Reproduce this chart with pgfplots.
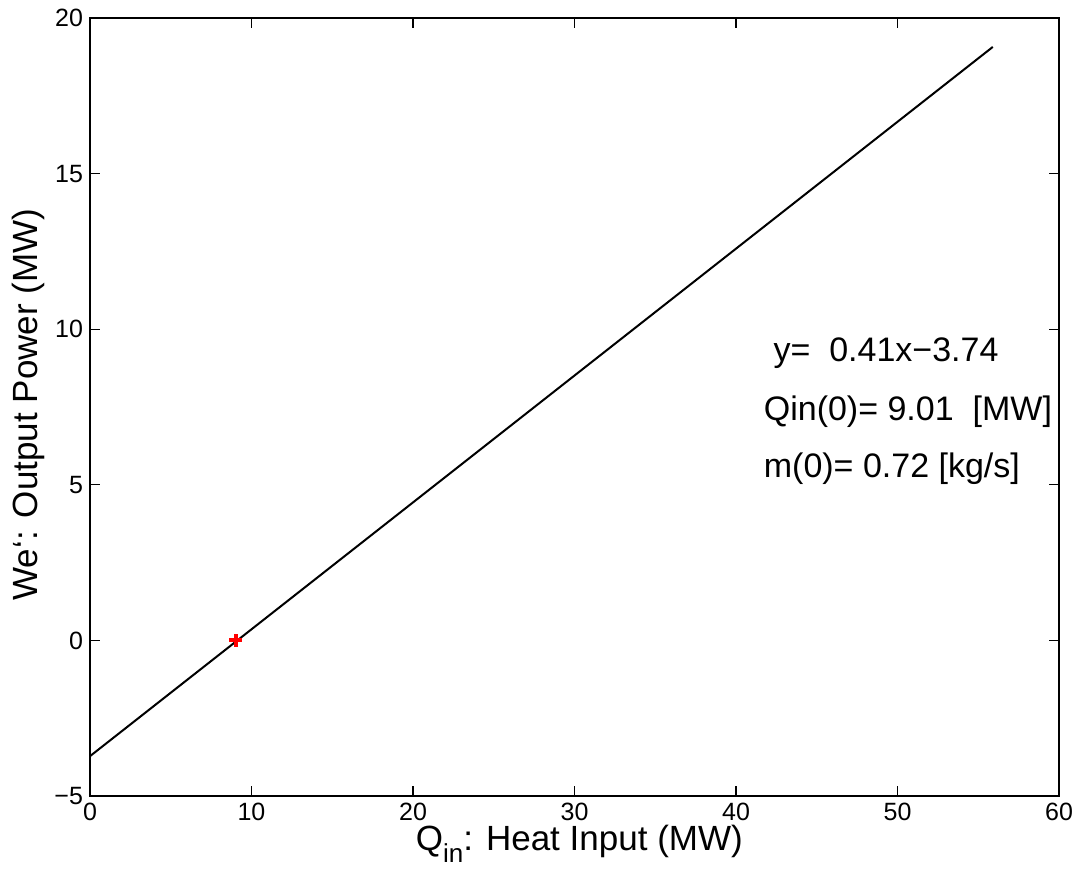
\documentclass[border=0pt]{standalone}
\usepackage{fontspec}
\setmainfont{Liberation Sans}
\usepackage{pgfplots}
\pgfplotsset{compat=1.18}
\begin{document}
\begin{tikzpicture}
\begin{axis}[
  scale only axis,
  width=484.5pt, height=389pt,
  xmin=0, xmax=60, ymin=-5, ymax=20,
  xtick={0,10,...,60}, ytick={-5,0,...,20},
  yticklabels={−5,0,5,10,15,20},
  tick align=inside,
  major tick length=5pt,
  axis line style={line width=0.8pt},
  every tick/.style={line width=0.6pt, black},
  tick label style={font=\fontsize{12.5}{14}\selectfont},
  /pgf/number format/assume math mode=true,
  xlabel={Q\raisebox{-0.7ex}{\fontsize{13}{13}\selectfont in}: Heat Input (MW)},
  ylabel={We‘: Output Power (MW)},
  label style={font=\fontsize{17.5}{20}\selectfont},
  xlabel style={at={(axis description cs:0.505,0)}, anchor=base, yshift=-27pt},
  ylabel style={at={(axis description cs:-0.064,0.503)}, anchor=center, rotate=0},
]
\addplot[black, line width=1pt] coordinates {(0,-3.72) (55.9,19.07)};
\addplot[red, only marks, mark=+, mark size=3.2pt, mark options={line width=2pt}] coordinates {(9.01,0)};
\node[anchor=base west, font=\fontsize{17}{20}\selectfont, inner sep=0pt] at (axis cs:42.3,8.95) {y=\ \ 0.41x−3.74};
\node[anchor=base west, font=\fontsize{17}{20}\selectfont, inner sep=0pt] at (axis cs:41.7,7.08) {Qin(0)= 9.01\ \ [MW]};
\node[anchor=base west, font=\fontsize{17}{20}\selectfont, inner sep=0pt] at (axis cs:41.7,5.22) {m(0)= 0.72 [kg/s]};
\end{axis}
\path[use as bounding box] ([xshift=-45pt,yshift=-35.5pt]current axis.south west) rectangle ([xshift=16pt,yshift=9pt]current axis.north east);
\end{tikzpicture}
\end{document}
